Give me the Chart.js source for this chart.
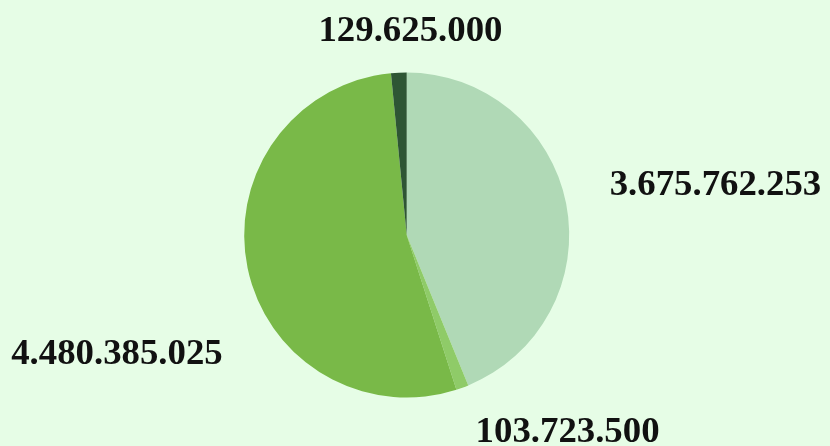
<!DOCTYPE html>
<html>
<head>
<meta charset="utf-8">
<script src="https://cdn.jsdelivr.net/npm/chart.js@4"></script>
<style>
html,body{margin:0;padding:0;background:#e6fde6;}
#wrap{width:830px;height:446px;position:relative;}
</style>
</head>
<body>
<div id="wrap"><canvas id="c" width="830" height="446"></canvas></div>
<script>
const categories = ["A", "B", "C", "D"];
const values = [3675762253, 103723500, 4480385025, 129625000];
const sliceColors = ["#b0d9b6", "#8fcb68", "#79b948", "#2e5534"];
// label anchor offsets in units of pie radius, relative to pie centre
const labelOffsets = [[1.90, -0.303], [0.99, 1.213], [-1.783, 0.733], [0.023, -1.255]];

function fmt(v){ return String(v).replace(/\B(?=(\d{3})+(?!\d))/g, "."); }

const labelPlugin = {
  id: 'outerLabels',
  afterDatasetsDraw(chart){
    const ctx = chart.ctx;
    const meta = chart.getDatasetMeta(0);
    ctx.save();
    ctx.font = "bold 36.8px 'Liberation Serif'";
    ctx.fillStyle = "#111111";
    ctx.textAlign = "center";
    ctx.textBaseline = "middle";
    meta.data.forEach((arc, i) => {
      const r = arc.outerRadius;
      const x = arc.x + labelOffsets[i][0] * r;
      const y = arc.y + labelOffsets[i][1] * r;
      ctx.fillText(fmt(values[i]), x, y);
    });
    ctx.restore();
  }
};

new Chart(document.getElementById('c'), {
  type: 'pie',
  data: {
    labels: categories,
    datasets: [{ data: values, backgroundColor: sliceColors, borderWidth: 0 }]
  },
  options: {
    responsive: false,
    animation: false,
    layout: { padding: { top: 72.5, bottom: 48.5, left: 0, right: 16.6 } },
    plugins: { legend: { display: false }, tooltip: { enabled: false } }
  },
  plugins: [labelPlugin]
});
</script>
</body>
</html>
